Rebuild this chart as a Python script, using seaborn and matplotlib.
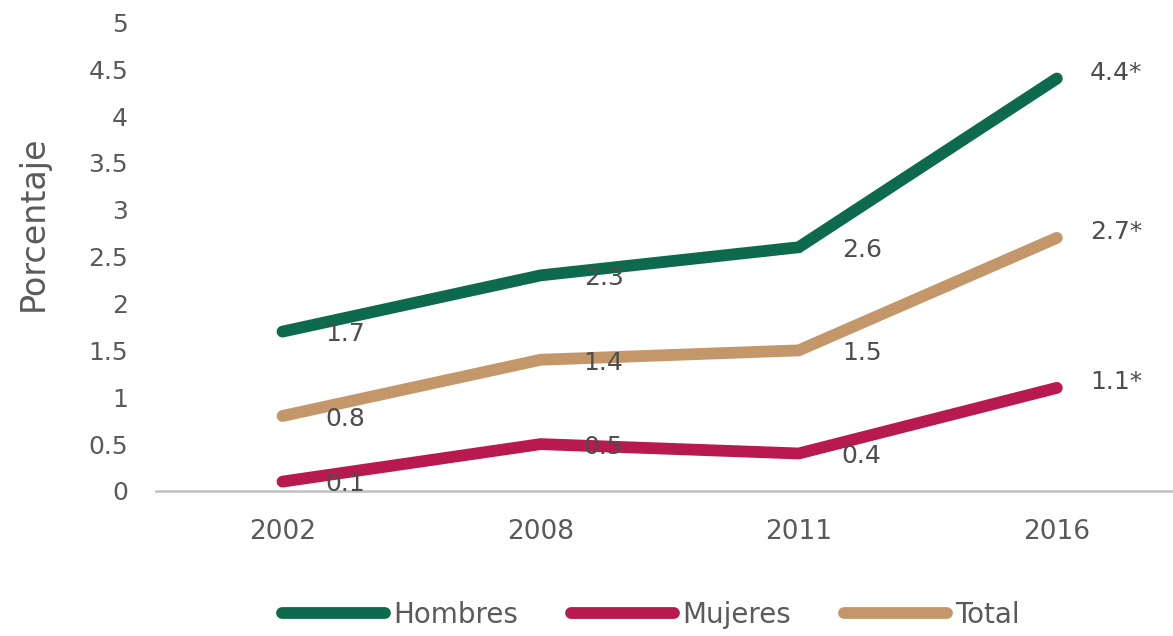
import matplotlib
matplotlib.use("Agg")
import matplotlib.pyplot as plt
import seaborn as sns
import pandas as pd

years = ["2002", "2008", "2011", "2016"]
hombres = [1.7, 2.3, 2.6, 4.4]
mujeres = [0.1, 0.5, 0.4, 1.1]
total = [0.8, 1.4, 1.5, 2.7]
labels_h = ["1.7", "2.3", "2.6", "4.4*"]
labels_m = ["0.1", "0.5", "0.4", "1.1*"]
labels_t = ["0.8", "1.4", "1.5", "2.7*"]
series_names = ["Hombres", "Mujeres", "Total"]
colors = ["#0e6a4d", "#b8194f", "#c4976a"]

df = pd.DataFrame({
    "Año": years * 3,
    "Porcentaje": hombres + mujeres + total,
    "Serie": [series_names[0]] * 4 + [series_names[1]] * 4 + [series_names[2]] * 4,
})

sns.set_theme(style="white")
plt.rcParams["font.family"] = ["DejaVu Sans"]
text_color = "#5a5a5a"

fig = plt.figure(figsize=(11.73, 6.36), dpi=100)
ax = fig.add_axes([0.133, 0.228, 0.867, 0.737])

sns.lineplot(data=df, x="Año", y="Porcentaje", hue="Serie", palette=colors,
             linewidth=8.5, sort=False, ax=ax, legend=False)
for line in ax.get_lines():
    line.set_solid_capstyle("round")
    line.set_solid_joinstyle("miter")

# value labels next to each point
for vals, labs in [(hombres, labels_h), (mujeres, labels_m), (total, labels_t)]:
    for i, (v, lab) in enumerate(zip(vals, labs)):
        off = (24, 4) if i == 3 else (31, -2)
        ax.annotate(lab, (i, v), xytext=off, textcoords="offset points",
                    ha="left", va="center", fontsize=18, color="#4d4d4d")

ax.set_ylim(0, 5)
ax.set_xlim(-0.49, 3.45)
ax.set_yticks([0, 0.5, 1, 1.5, 2, 2.5, 3, 3.5, 4, 4.5, 5])
ax.set_yticklabels(["0", "0.5", "1", "1.5", "2", "2.5", "3", "3.5", "4", "4.5", "5"])
ax.tick_params(axis="y", length=0, pad=20, labelsize=18, labelcolor=text_color)
ax.tick_params(axis="x", length=0, pad=20, labelsize=19, labelcolor=text_color)
ax.set_xlabel("")
ax.set_ylabel("Porcentaje", fontsize=24, color=text_color)
ax.yaxis.set_label_coords(-0.104, 0.571)

for side in ["top", "right", "left"]:
    ax.spines[side].set_visible(False)
ax.spines["bottom"].set_color("#c0c0c0")
ax.spines["bottom"].set_linewidth(1.8)

handles = [plt.Line2D([0], [0], color=c, linewidth=8.5, solid_capstyle="round")
           for c in colors]
fig.legend(handles, series_names, loc="center", bbox_to_anchor=(0.555, 0.033),
           ncol=3, frameon=False, fontsize=20, handlelength=3.7,
           handletextpad=0.3, columnspacing=1.9, labelcolor=text_color)

fig.savefig("out.png", dpi=100)
